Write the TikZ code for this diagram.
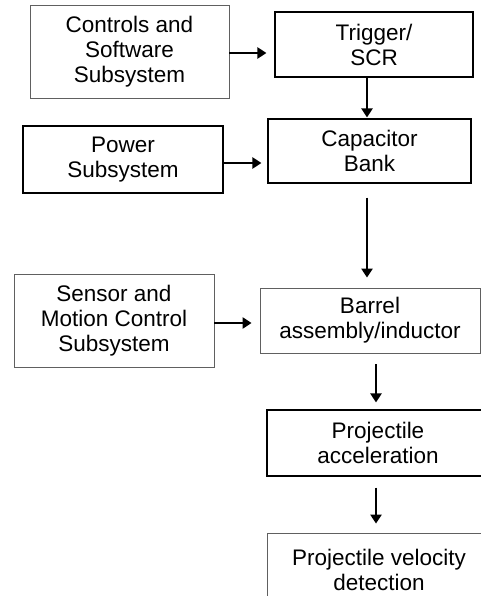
\documentclass[tikz,border=0pt]{standalone}
\usepackage{fontspec}
\setmainfont{Liberation Sans}
\usetikzlibrary{arrows.meta,calc,positioning}
\definecolor{EdgeGray}{RGB}{96,96,96}

\begin{document}
\begin{tikzpicture}[x=1pt,y=-1pt,
 blk/.style={align=center,inner sep=0pt,font=\fontsize{22.5}{25}\selectfont},
 gbox/.style={blk,draw=EdgeGray,line width=.8pt},
 kbox/.style={blk,draw=black,line width=1.1pt},
 arr/.style={line width=2.8pt,-{Triangle[length=9pt,width=11pt]}}]
\useasboundingbox (0,0) rectangle (481,596);
\clip (0,0) rectangle (481,596);
% left column
\node[gbox,minimum width=199pt,minimum height=93pt] (ctrl) at (129.5,51.5){Controls and\\Software\\Subsystem};
\node[kbox,minimum width=200pt,minimum height=67pt] (pow) at (123,159.5){Power\\Subsystem};
\node[gbox,minimum width=200pt,minimum height=93pt] (sens) at (114,320.5){Sensor and\\Motion Control\\Subsystem};
% right column
\node[kbox,minimum width=198pt,minimum height=65pt] (trig) at (374,44.5){Trigger/\\SCR};
\node[kbox,minimum width=203pt,minimum height=64pt] (cap) at (369.5,151){Capacitor\\Bank};
\node[gbox,minimum width=220pt,minimum height=65pt] (brl) at (370,320.5){Barrel\\assembly/inductor};
\node[kbox,minimum width=222pt,minimum height=66pt] (acc) at (378,443){Projectile\\acceleration};
\node[gbox,minimum width=224pt,minimum height=74pt] (vel) at (379,570){Projectile velocity\\detection};
% links
\draw[arr,shorten >=8pt] ([yshift=-1.5pt]ctrl.east) -- ([yshift=-1.5pt]ctrl.east -| trig.west);
\draw[arr,shorten >=1pt] ([xshift=-2.5pt]cap.north |- trig.south) -- ([xshift=-2.5pt]cap.north);
\draw[arr,shorten >=6pt] ([yshift=-3.5pt]pow.east) -- ([yshift=-3.5pt]pow.east -| cap.west);
\draw[arr,shorten <=14pt,shorten >=10pt] ([xshift=-2.5pt]cap.south) -- ([xshift=-2.5pt]cap.south |- brl.north);
\draw[arr,shorten >=8pt] ([yshift=-2.5pt]sens.east) -- ([yshift=-2.5pt]sens.east -| brl.west);
\draw[arr,shorten <=11pt,shorten >=7pt] ([xshift=-2pt]acc.north |- brl.south) -- ([xshift=-2pt]acc.north);
\draw[arr,shorten <=11pt,shorten >=9pt] ([xshift=-2pt]acc.south) -- ([xshift=-2pt]acc.south |- vel.north);
\end{tikzpicture}
\end{document}
